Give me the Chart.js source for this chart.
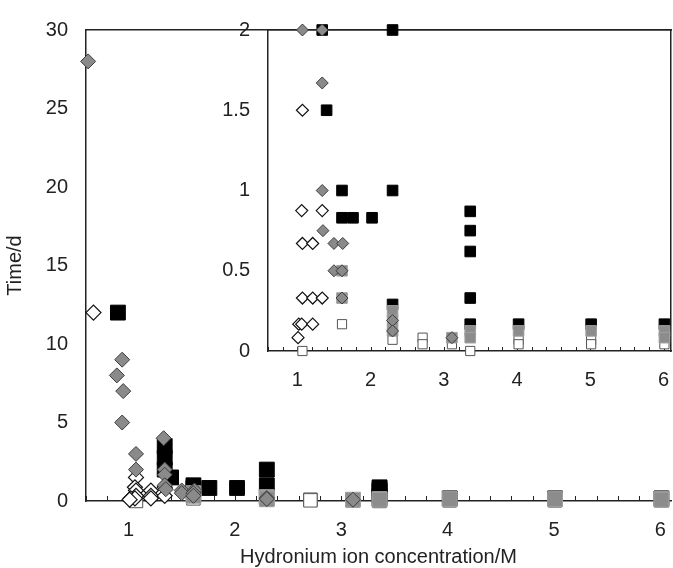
<!DOCTYPE html>
<html>
<head>
<meta charset="utf-8">
<script src="https://cdn.jsdelivr.net/npm/chart.js@4.4.0/dist/chart.umd.min.js"></script>
<style>
  html, body { margin: 0; padding: 0; background: #fff; }
  #wrap { position: relative; width: 673px; height: 568px; }
  #mainCanvas { position: absolute; left: 0; top: 0; }
  #insetCanvas { position: absolute; left: 200px; top: 0; }
</style>
</head>
<body>
<div id="wrap">
  <canvas id="mainCanvas" width="673" height="568"></canvas>
  <canvas id="insetCanvas" width="473" height="400"></canvas>
</div>
<script>
// values (x = hydronium ion conc. in M, y = time in days)
const openDiamondX = [0.67, 1.07, 1.06, 1.34, 1.07, 1.21, 1.07, 1.21, 1.34, 1.02, 1.06, 1.21, 1.01];
const openDiamondY = [12, 1.5, 0.875, 0.875, 0.67, 0.67, 0.33, 0.33, 0.33, 0.167, 0.167, 0.167, 0.083];

const grayDiamondX = [0.62, 0.94, 0.89, 0.95, 0.94, 1.07, 1.07, 1.33, 1.34, 1.34, 1.34, 1.35, 1.50, 1.62, 1.50, 1.61, 1.61, 2.30, 2.30, 3.11];
const grayDiamondY = [28, 9, 8, 7, 5, 3, 2, 4, 2, 1.67, 1.0, 0.75, 0.67, 0.67, 0.5, 0.5, 0.33, 0.19, 0.125, 0.083];

const blackSquareX = [0.9, 1.34, 1.34, 1.34, 1.40, 1.61, 1.61, 1.76, 2.02, 2.30, 2.30, 2.30, 3.36, 3.36, 3.36, 3.36, 3.36, 4.02, 5.01, 6.01];
const blackSquareY = [12, 3.5, 2.75, 2, 1.5, 1.0, 0.83, 0.83, 0.83, 2, 1.0, 0.29, 0.87, 0.75, 0.62, 0.33, 0.167, 0.167, 0.167, 0.167];

const graySquareX = [1.61, 1.61, 2.30, 2.30, 2.30, 3.11, 3.36, 3.36, 4.02, 5.01, 6.01, 6.01];
const graySquareY = [0.5, 0.33, 0.25, 0.19, 0.125, 0.083, 0.125, 0.083, 0.125, 0.125, 0.125, 0.083];

const openSquareX = [1.07, 1.61, 2.30, 2.71, 2.71, 3.11, 3.36, 4.02, 4.02, 5.01, 5.01, 6.01];
const openSquareY = [0, 0.167, 0.07, 0.083, 0.042, 0.042, 0, 0.07, 0.042, 0.07, 0.042, 0.042];

const xTickLabels = [1, 2, 3, 4, 5, 6];

Chart.defaults.font.family = "'Liberation Sans', Arial, sans-serif";
Chart.defaults.color = "#222";

const lineColor = "#222";

function zip(xs, ys, maxY) {
    const pts = xs.map((x, i) => ({ x: x, y: ys[i] }));
    return maxY === undefined ? pts : pts.filter(p => p.y <= maxY);
}

// first dataset is drawn on top
function makeDatasets(maxY, diamondR, squareR, openSqR) {
    return [
        { label: "gray diamond", data: zip(grayDiamondX, grayDiamondY, maxY), pointStyle: "rectRot",
          pointRadius: diamondR, backgroundColor: "#8a8a8a", borderColor: "#3c3c3c", borderWidth: 1, clip: false },
        { label: "open diamond", data: zip(openDiamondX, openDiamondY, maxY), pointStyle: "rectRot",
          pointRadius: diamondR, backgroundColor: "#ffffff", borderColor: "#111", borderWidth: 1.2, clip: false },
        { label: "gray square", data: zip(graySquareX, graySquareY, maxY), pointStyle: "rect",
          pointRadius: squareR, backgroundColor: "#8c8c8c", borderColor: "#a0a0a0", borderWidth: 1, clip: false },
        { label: "open square", data: zip(openSquareX, openSquareY, maxY), pointStyle: "rect",
          pointRadius: openSqR, backgroundColor: "#ffffff", borderColor: "#555", borderWidth: 1, clip: false },
        { label: "black square", data: zip(blackSquareX, blackSquareY, maxY), pointStyle: "rect",
          pointRadius: squareR, backgroundColor: "#000", borderColor: "#000", borderWidth: 1, clip: false },
    ];
}

function xLabel(v) {
    const r = Math.round(v);
    return (Math.abs(v - r) < 1e-6 && xTickLabels.includes(r)) ? String(r) : "";
}

// short tick marks pointing up into the plot, one per x tick (0.2 M)
const innerTicks = {
    id: "innerTicks",
    beforeDatasetsDraw(chart, args, opts) {
        const xs = chart.scales.x;
        const ctx = chart.ctx;
        const y0 = xs.top;
        ctx.save();
        ctx.strokeStyle = lineColor;
        ctx.lineWidth = 1;
        ctx.beginPath();
        xs.ticks.forEach(t => {
            const px = Math.round(xs.getPixelForValue(t.value)) + 0.5;
            ctx.moveTo(px, y0);
            ctx.lineTo(px, y0 - opts.length);
        });
        ctx.stroke();
        ctx.restore();
    }
};

// tick labels sit ~29px below the axis; done with line height so no side padding is reserved
function bottomAxis(height, withTitle) {
    const ax = {
        type: "linear", position: "bottom", min: 0.6, max: 6.1,
        afterFit: s => { s.height = height; s.paddingLeft = 0; s.paddingRight = 0; },
        border: { display: true, color: lineColor, width: 1.5 },
        grid: { display: false, drawTicks: false },
        ticks: { stepSize: 0.2, includeBounds: false, autoSkip: false, maxRotation: 0, padding: 0,
                 font: { size: 20, lineHeight: 2.9 }, callback: xLabel }
    };
    if (withTitle) {
        ax.title = { display: true, text: "Hydronium ion concentration/M", font: { size: 20, lineHeight: 1.1 },
                     padding: { top: 0, bottom: 0 } };
    }
    return ax;
}

const topBorder = {
    type: "linear", position: "top", min: 0.6, max: 6.1,
    afterFit: s => { s.height = 22; s.paddingLeft = 0; s.paddingRight = 0; },
    border: { display: true, color: lineColor, width: 1.5 },
    grid: { display: false },
    ticks: { display: false }
};

// main chart
new Chart(document.getElementById("mainCanvas").getContext("2d"), {
    type: "scatter",
    data: { datasets: makeDatasets(undefined, 7.5, 10.5, 9.5) },
    plugins: [innerTicks],
    options: {
        responsive: false,
        animation: false,
        events: [],
        layout: { autoPadding: false, padding: { left: 0, right: 2, top: 0, bottom: 0 } },
        plugins: { legend: { display: false }, tooltip: { enabled: false }, innerTicks: { length: 5 } },
        scales: {
            x: bottomAxis(67, true),
            x2: topBorder,
            y: {
                type: "linear", position: "left", min: 0, max: 30,
                afterFit: s => { s.width = 86; },
                border: { display: true, color: lineColor, width: 1.5 },
                grid: { display: false, drawTicks: false },
                ticks: { stepSize: 5, padding: 18, font: { size: 20 } },
                title: { display: true, text: "Time/d", font: { size: 20, lineHeight: 1.2 }, padding: { top: 3, bottom: 0 } }
            }
        }
    }
});

// inset chart (same data, 0-2 d)
new Chart(document.getElementById("insetCanvas").getContext("2d"), {
    type: "scatter",
    data: { datasets: makeDatasets(2, 6, 7.5, 6.5) },
    plugins: [innerTicks],
    options: {
        responsive: false,
        animation: false,
        events: [],
        layout: { autoPadding: false, padding: { left: 0, right: 2, top: 0, bottom: 0 } },
        plugins: { legend: { display: false }, tooltip: { enabled: false }, innerTicks: { length: 4 } },
        scales: {
            x: bottomAxis(49, false),
            x2: topBorder,
            y: {
                type: "linear", position: "left", min: 0, max: 2,
                afterFit: s => { s.width = 68; },
                border: { display: true, color: lineColor, width: 1.5 },
                grid: { display: false, drawTicks: false },
                ticks: { stepSize: 0.5, padding: 18, font: { size: 20 }, callback: v => String(Number(v.toFixed(2))) }
            },
            y2: {
                type: "linear", position: "right", min: 0, max: 2,
                afterFit: s => { s.width = 0; },
                border: { display: true, color: lineColor, width: 1.5 },
                grid: { display: false },
                ticks: { display: false }
            }
        }
    }
});
</script>
</body>
</html>
